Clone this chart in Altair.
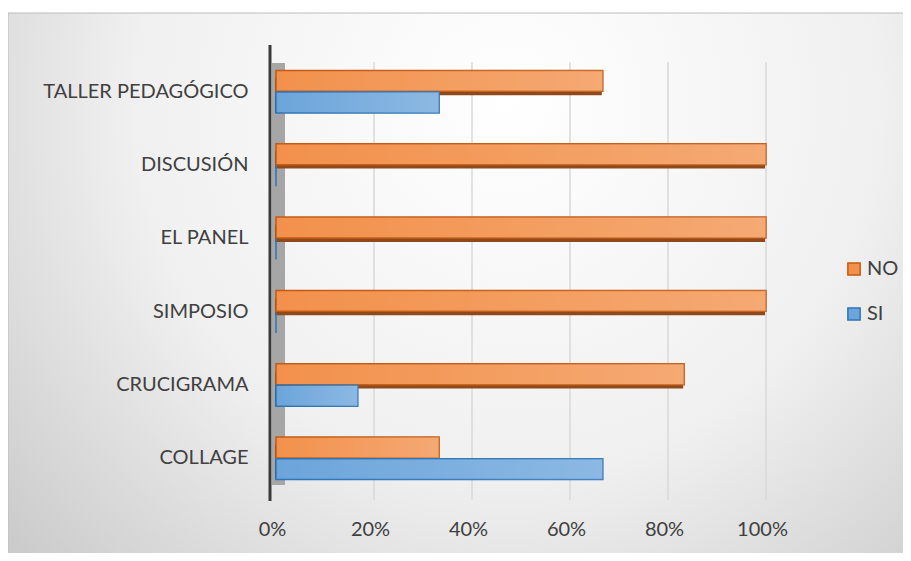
import altair as alt
import pandas as pd

categories = ["TALLER PEDAGÓGICO", "DISCUSIÓN", "EL PANEL ", "SIMPOSIO", "CRUCIGRAMA", "COLLAGE"]
series = ["NO", "SI"]
no_values = [0.667, 1.0, 1.0, 1.0, 0.833, 0.333]
si_values = [0.333, 0.0, 0.0, 0.0, 0.167, 0.667]
x_ticks = [0, 0.2, 0.4, 0.6, 0.8, 1.0]
grid_ticks = [0.2, 0.4, 0.6, 0.8, 1.0]

fill_colors = ["#F2914C", "#6CA5DB"]
stroke_colors = ["#C55A11", "#2E75B6"]
shadow_no, shadow_si = "#8E4A1C", "#235E96"

rows = []
for c, n, s in zip(categories, no_values, si_values):
    rows.append({"cat": c, "series": "NO", "value": n})
    rows.append({"cat": c, "series": "SI", "value": s})
df = pd.DataFrame(rows)
grid_df = pd.DataFrame({"t": grid_ticks})

W, H = 490, 440
FONT = "Lato"
one = alt.Data(values=[{}])

xscale = alt.Scale(domain=[0, 1], nice=False, zero=True)
x_axis = alt.Axis(values=x_ticks, format="%", grid=False, domain=False, ticks=False,
                  labelFontSize=20, labelColor="#404040", labelFont=FONT,
                  labelFlush=False, labelBound=False, labelOverlap=False,
                  labelOffset=-4, labelPadding=24, title=None, zindex=2)

y_enc = alt.Y(
    "cat:N", sort=categories,
    scale=alt.Scale(paddingInner=0.42, paddingOuter=0.21),
    axis=alt.Axis(title=None, domain=False, ticks=False, labelFontSize=20,
                  labelColor="#404040", labelFont=FONT, labelPadding=28,
                  labelLimit=400, zindex=2),
)
yoff_enc = alt.YOffset("series:N", sort=series, scale=alt.Scale(paddingInner=0.03))
yoff_shadow = alt.YOffset("series:N", sort=series,
                          scale=alt.Scale(paddingInner=0.03, paddingOuter=0.22, align=1))
x_enc = alt.X("value:Q", scale=xscale, axis=x_axis)

bg = alt.Chart(one).mark_rect(
    fill={"gradient": "radial", "x1": 0.55, "y1": 0.3, "r1": 0,
          "x2": 0.55, "y2": 0.3, "r2": 0.75,
          "stops": [{"offset": 0, "color": "#ffffff"},
                    {"offset": 0.55, "color": "#f0f0f0"},
                    {"offset": 1, "color": "#c9c9c9"}]},
    stroke="#bcbcbc", strokeWidth=1,
).encode(x=alt.value(-268), x2=alt.value(640), y=alt.value(-42), y2=alt.value(500))

grid = alt.Chart(grid_df).mark_rule(color="#d9d9d9", strokeWidth=1.5).encode(
    x=alt.X("t:Q", scale=xscale, axis=x_axis), y=alt.value(7), y2=alt.value(445)
)

wall = alt.Chart(one).mark_rect(fill="#a6a6a6").encode(
    x=alt.value(-4), x2=alt.value(9), y=alt.value(8), y2=alt.value(430)
)
wall_line = alt.Chart(one).mark_rule(color="#3a3a3a", strokeWidth=3).encode(
    x=alt.value(-6), y=alt.value(-10), y2=alt.value(446)
)

shadow = alt.Chart(df).mark_bar(xOffset=-1).encode(
    y=y_enc, yOffset=yoff_shadow, x=x_enc,
    color=alt.condition(alt.datum.series == "NO", alt.value(shadow_no), alt.value(shadow_si)),
)

legend = alt.Legend(orient="none", legendX=568, legendY=204, title=None,
                    symbolType="square", symbolSize=150, symbolStrokeWidth=1.5,
                    labelFontSize=20, labelColor="#404040", labelFont=FONT,
                    rowPadding=25, labelOffset=3)

bars = alt.Chart(df).mark_bar(strokeWidth=1.5).encode(
    y=y_enc, yOffset=yoff_enc, x=x_enc,
    fill=alt.Fill("series:N", scale=alt.Scale(domain=series, range=fill_colors), legend=legend),
    stroke=alt.Stroke("series:N", scale=alt.Scale(domain=series, range=stroke_colors), legend=legend),
)

sheen = alt.Chart(df).mark_bar(
    fill={"gradient": "linear", "x1": 0, "y1": 0, "x2": 1, "y2": 0,
          "stops": [{"offset": 0, "color": "rgba(255,255,255,0)"},
                    {"offset": 1, "color": "rgba(255,255,255,0.22)"}]},
).encode(y=y_enc, yOffset=yoff_enc, x=x_enc)

chart = alt.layer(bg, grid, wall, shadow, bars, sheen, wall_line).resolve_scale(
    yOffset="independent"
).properties(
    width=W, height=H,
    autosize=alt.AutoSizeParams(type="none"),
    padding={"left": 268, "top": 47, "right": 137, "bottom": 58},
).configure_view(stroke=None)

chart.save("out.html", embed_options={"renderer": "svg", "actions": False})
